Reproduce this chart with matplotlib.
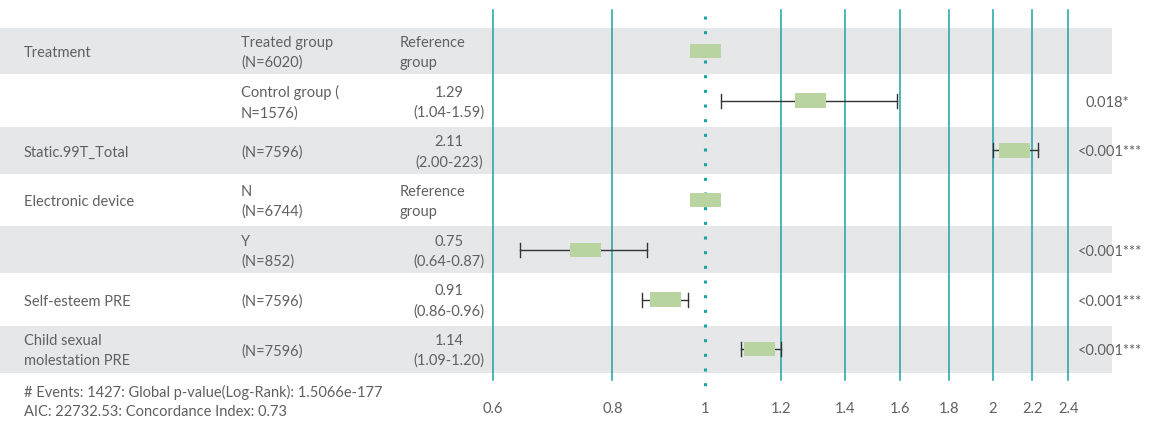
import numpy as np
import matplotlib
matplotlib.use("Agg")
import matplotlib.pyplot as plt
from matplotlib.patches import Rectangle

plt.rcParams['font.family'] = ['Lato', 'DejaVu Sans']

# ---- data ----
variables = ["Treatment", "", "Static.99T_Total", "Electronic device", "",
             "Self-esteem PRE", "Child sexual\nmolestation PRE"]
groups = ["Treated group\n(N=6020)", "Control group (\nN=1576)", "(N=7596)",
          "N\n(N=6744)", "Y\n(N=852)", "(N=7596)", "(N=7596)"]
hr_text = ["Reference\ngroup", "1.29\n(1.04-1.59)", "2.11\n(2.00-223)",
           "Reference\ngroup", "0.75\n(0.64-0.87)", "0.91\n(0.86-0.96)",
           "1.14\n(1.09-1.20)"]
is_reference = [True, False, False, True, False, False, False]
hr = [1.0, 1.29, 2.11, 1.0, 0.75, 0.91, 1.14]
ci_low = [np.nan, 1.04, 2.00, np.nan, 0.64, 0.86, 1.09]
ci_high = [np.nan, 1.59, 2.23, np.nan, 0.87, 0.96, 1.20]
p_values = ["", "0.018*", "<0.001***", "", "<0.001***", "<0.001***", "<0.001***"]
tick_values = [0.6, 0.8, 1, 1.2, 1.4, 1.6, 1.8, 2, 2.2, 2.4]
tick_labels = ["0.6", "0.8", "1", "1.2", "1.4", "1.6", "1.8", "2", "2.2", "2.4"]
footer = ["# Events: 1427: Global p-value(Log-Rank): 1.5066e-177",
          "AIC: 22732.53: Concordance Index: 0.73"]

# ---- style ----
W, H = 1152, 421
teal = "#1ba3a6"
box_col = "#b9d4a0"
band_col = "#e6e7e8"
txt_col = "#606060"
fs = 10.5
fw = "normal"

fig = plt.figure(figsize=(W / 100, H / 100), dpi=100)
ax = fig.add_axes([0, 0, 1, 1])
ax.set_xscale("log")
px_per_ln = 415.0
x0 = 705.0
ax.set_xlim(np.exp(-x0 / px_per_ln), np.exp((W - x0) / px_per_ln))
row_h = 49.7
y0 = 51.0
ax.set_ylim((H - y0) / row_h, -y0 / row_h)
ax.axis("off")

def py(p):
    return (p - y0) / row_h

def fx(p):
    return p / W

n = len(variables)
# bands
for i in range(n):
    if i % 2 == 0:
        ax.add_patch(Rectangle((0, i - 0.47), fx(1112), 0.94,
                               transform=ax.get_yaxis_transform(),
                               facecolor=band_col, edgecolor="none", zorder=0))

# vertical grid lines
for v in tick_values:
    if v == 1:
        ax.plot([v, v], [py(16), py(390)], color=teal, lw=2.2,
                linestyle=(0, (1, 3.8)), zorder=1)
    else:
        ax.plot([v, v], [py(10), py(380)], color=teal, lw=1.1, zorder=1)
for v, lab in zip(tick_values, tick_labels):
    ax.text(v, py(409), lab, ha="center", va="center", fontsize=fs,
            color=txt_col, fontweight=fw)

# boxes and whiskers
half_w = 15.5 / px_per_ln
box_h = 14.5 / row_h
cap_h = 14.0 / row_h
for i in range(n):
    if not np.isnan(ci_low[i]):
        ax.plot([ci_low[i], ci_high[i]], [i, i], color="#333333", lw=1.0, zorder=2)
        for c in (ci_low[i], ci_high[i]):
            ax.plot([c, c], [i - cap_h / 2, i + cap_h / 2], color="#333333",
                    lw=1.0, zorder=2)
    ax.add_patch(Rectangle((hr[i] * np.exp(-half_w), i - box_h / 2),
                           hr[i] * (np.exp(half_w) - np.exp(-half_w)), box_h,
                           facecolor=box_col, edgecolor="none", zorder=3))

tr = ax.get_yaxis_transform()
ls = 1.5
dy = 2.0 / row_h
for i in range(n):
    yt = i + dy
    ax.text(fx(24), yt, variables[i], transform=tr, ha="left", va="center",
            fontsize=fs, color=txt_col, linespacing=ls, fontweight=fw)
    ax.text(fx(241), yt, groups[i], transform=tr, ha="left", va="center",
            fontsize=fs, color=txt_col, linespacing=ls, fontweight=fw)
    if is_reference[i]:
        ax.text(fx(400), yt, hr_text[i], transform=tr, ha="left", va="center",
                fontsize=fs, color=txt_col, linespacing=ls, fontweight=fw)
    else:
        ax.text(fx(449), yt, hr_text[i], transform=tr, ha="center", va="center",
                fontsize=fs, color=txt_col, linespacing=ls, fontweight=fw,
                multialignment="center")
    if p_values[i]:
        xp = 1085 if not p_values[i].startswith("<") else 1078
        ax.text(fx(xp), yt, p_values[i], transform=tr, ha="left", va="center",
                fontsize=fs, color=txt_col, fontweight=fw)

ax.text(fx(24), py(392), footer[0], transform=tr, ha="left", va="center",
        fontsize=fs, color=txt_col, fontweight=fw)
ax.text(fx(24), py(412), footer[1], transform=tr, ha="left", va="center",
        fontsize=fs, color=txt_col, fontweight=fw)

fig.savefig("out.png", dpi=100)
